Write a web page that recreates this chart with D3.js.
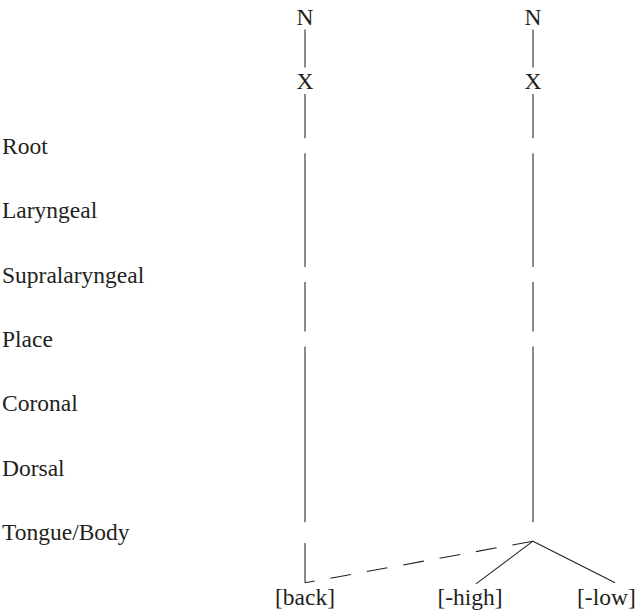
<!DOCTYPE html>
<html>
<head>
<meta charset="utf-8">
<script src="https://cdn.jsdelivr.net/npm/d3@7"></script>
</head>
<body style="margin:0">
<svg id="chart" width="638" height="613"></svg>
<script>
// ---- data ----
// tiers, top to bottom
const tiers = ["N", "X", "Root", "Laryngeal", "Supralaryngeal", "Place", "Coronal", "Dorsal", "Tongue/Body", "Features"];
// row labels shown on the left
const rowLabels = ["Root", "Laryngeal", "Supralaryngeal", "Place", "Coronal", "Dorsal", "Tongue/Body"];
// labelled tree nodes (column unit, tier)
const nodeLabels = [
  { text: "N", col: 0, tier: "N" },
  { text: "X", col: 0, tier: "X" },
  { text: "N", col: 1, tier: "N" },
  { text: "X", col: 1, tier: "X" }
];
// terminal features
const features = ["[back]", "[-high]", "[-low]"];
const featureCols = [0, 0.724, 1.322];
const featureAttach = [0, 0.75, 1.36];
// vertical spines of the two segments: tiers on the path (unlisted tiers are skipped)
const leftPath = ["N", "X", "Root", "Supralaryngeal", "Place", "Tongue/Body", "Features"];
const rightPath = ["N", "X", "Root", "Supralaryngeal", "Place", "Tongue/Body"];
// links from right Tongue/Body node to features: [featureIndex, dashed]
const branchLinks = [[0, true], [1, false], [2, false]];

// ---- layout ----
const FONT = '"Liberation Serif", serif';
const svg = d3.select("#chart");
const fontSize = 23.5;
const y = d3.scalePoint().domain(tiers).range([25, 604.6]);   // text baselines
const x = d3.scaleLinear().domain([0, 1]).range([305, 533]);

function styleText(sel) {
  sel.attr("font-family", FONT).attr("font-size", fontSize).attr("fill", "#231f20");
}

// left labels
svg.append("g").selectAll("text").data(rowLabels).join("text")
  .call(styleText)
  .attr("x", 2).attr("y", d => y(d))
  .text(d => d);

// node labels
svg.append("g").selectAll("text").data(nodeLabels).join("text")
  .call(styleText)
  .attr("x", d => x(d.col)).attr("y", d => y(d.tier))
  .attr("text-anchor", "middle")
  .text(d => d.text);

// feature labels
svg.append("g").selectAll("text").data(features).join("text")
  .call(styleText)
  .attr("x", (d, i) => x(featureCols[i])).attr("y", y("Features"))
  .attr("text-anchor", "middle")
  .text(d => d);

const labelled = new Set(["N", "X", "Features"]);
function bottomOf(t, isBranch) {
  if (labelled.has(t)) return y(t) + 4.5;
  if (t === "Tongue/Body") return isBranch ? y(t) + 1 : y(t) + 2.8;
  return y(t) - 0.5;
}
function topOf(t) {
  if (labelled.has(t)) return y(t) - 21.8;
  if (t === "Tongue/Body") return y(t) - 18;
  return y(t) - 15.5;
}

function spineSegments(path, col) {
  const segs = [];
  for (let i = 0; i < path.length - 1; i++) {
    segs.push({ x: x(col), y1: bottomOf(path[i], false), y2: topOf(path[i + 1]) });
  }
  return segs;
}
const segs = spineSegments(leftPath, 0).concat(spineSegments(rightPath, 1));

const lineG = svg.append("g").attr("stroke", "#231f20").attr("stroke-width", 1.05).attr("fill", "none");
lineG.selectAll("line.spine").data(segs).join("line")
  .attr("class", "spine")
  .attr("x1", d => d.x).attr("x2", d => d.x)
  .attr("y1", d => d.y1).attr("y2", d => d.y2);

// branches from the right Tongue/Body node
const bx = x(1), by = bottomOf("Tongue/Body", true);
lineG.selectAll("line.branch").data(branchLinks).join("line")
  .attr("class", "branch")
  .attr("x1", bx).attr("y1", by)
  .attr("x2", d => x(featureAttach[d[0]]))
  .attr("y2", d => topOf("Features") + (d[0] === 1 ? 1 : 0))
  .attr("stroke-dasharray", d => d[1] ? "21,16" : null);
</script>
</body>
</html>
